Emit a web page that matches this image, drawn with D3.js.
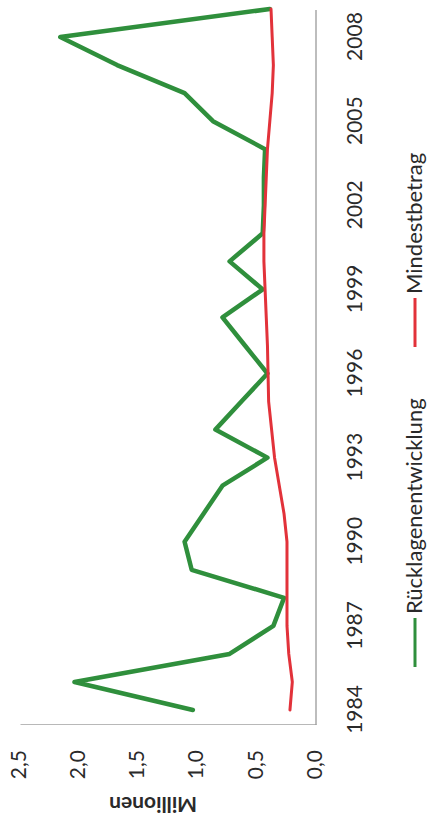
<!DOCTYPE html>
<html>
<head>
<meta charset="utf-8">
<script src="https://cdn.jsdelivr.net/npm/d3@7"></script>
<style>
  html, body { margin: 0; padding: 0; background: #fff; }
  svg { display: block; }
  text { font-family: Lato, "Open Sans", sans-serif; fill: #2a2a2a; }
</style>
</head>
<body>
<svg id="chart" width="429" height="817"></svg>
<script>
// Jahre (Kategorien)
const years = [1984, 1985, 1986, 1987, 1988, 1989, 1990, 1991, 1992, 1993, 1994, 1995, 1996,
               1997, 1998, 1999, 2000, 2001, 2002, 2003, 2004, 2005, 2006, 2007, 2008, 2009];
// Rücklagenentwicklung in Mio.
const ruecklagen = [1.04, 2.04, 0.73, 0.36, 0.27, 1.05, 1.11, 0.95, 0.79, 0.41, 0.85, 0.63, 0.41,
                    0.60, 0.79, 0.45, 0.73, 0.45, 0.44, 0.44, 0.43, 0.87, 1.11, 1.68, 2.16, 0.39];
// Mindestbetrag in Mio.
const mindestbetrag = [0.22, 0.20, 0.23, 0.245, 0.245, 0.245, 0.245, 0.27, 0.31, 0.35, 0.375, 0.40, 0.405,
                       0.41, 0.42, 0.43, 0.44, 0.44, 0.43, 0.42, 0.41, 0.39, 0.37, 0.36, 0.37, 0.38];
// Achsenbeschriftungen
const yearTicks = [1984, 1987, 1990, 1993, 1996, 1999, 2002, 2005, 2008];
const valueTicks = [0, 0.5, 1.0, 1.5, 2.0, 2.5];
const seriesNames = ["Rücklagenentwicklung", "Mindestbetrag"];
const seriesColors = ["#2f8f3c", "#e2323a"];

const W = 429, H = 817;
const svg = d3.select("#chart");

// Das Diagramm wird im Querformat aufgebaut und dann um 90° gedreht
const g = svg.append("g").attr("transform", `translate(0,${H}) rotate(-90)`);

const plotLeft = 92, plotRight = 807, plotTop = 20, plotBottom = 316;

const x = d3.scalePoint().domain(years).range([107, 808]);
const y = d3.scaleLinear().domain([0, 2.5]).range([plotBottom, plotTop]);

// Wertachse (links)
const yAxis = g.append("g")
  .attr("transform", `translate(${plotLeft},0)`)
  .call(d3.axisLeft(y).tickValues(valueTicks).tickSize(0).tickSizeOuter(0).tickPadding(25)
        .tickFormat(d => d.toFixed(1).replace(".", ",")));
yAxis.select(".domain").attr("stroke", "#b8b8b8").attr("stroke-width", 1.2);
yAxis.selectAll("text").attr("font-size", 21).attr("dy", "0.25em")
  .style("font-family", "Lato, sans-serif").attr("fill", "#2a2a2a");

// Kategorieachse (unten)
g.append("line")
  .attr("x1", plotLeft).attr("x2", plotRight)
  .attr("y1", plotBottom).attr("y2", plotBottom)
  .attr("stroke", "#9a9a9a").attr("stroke-width", 1.3);

const xAxis = g.append("g")
  .attr("transform", `translate(0,${plotBottom})`)
  .call(d3.axisBottom(x).tickValues(yearTicks).tickSize(0).tickSizeOuter(0).tickPadding(0));
xAxis.select(".domain").remove();
xAxis.selectAll("text").attr("font-size", 21).attr("y", 46).attr("dy", 0)
  .style("font-family", "Lato, sans-serif").attr("fill", "#2a2a2a");

// Achsentitel
g.append("text")
  .attr("transform", `translate(20,153) rotate(-90)`)
  .attr("text-anchor", "middle")
  .attr("font-size", 21).attr("font-weight", "bold")
  .text("Millionen");

// Linien
const line = d3.line().x((d, i) => x(years[i])).y(d => y(d));
[ruecklagen, mindestbetrag].forEach((vals, k) => {
  g.append("path")
    .datum(vals)
    .attr("fill", "none")
    .attr("stroke", seriesColors[k])
    .attr("stroke-width", k === 0 ? 4.5 : 3)
    .attr("stroke-linejoin", "round")
    .attr("stroke-linecap", "round")
    .attr("d", line);
});

// Legende
const legendPos = [150, 470];
seriesNames.forEach((name, k) => {
  const lg = g.append("g").attr("transform", `translate(${legendPos[k]},415)`);
  lg.append("line").attr("x1", 0).attr("x2", 49).attr("y1", 0).attr("y2", 0)
    .attr("stroke", seriesColors[k]).attr("stroke-width", 3);
  lg.append("text").attr("x", 53).attr("y", 7).attr("font-size", 22).text(name);
});
</script>
</body>
</html>
